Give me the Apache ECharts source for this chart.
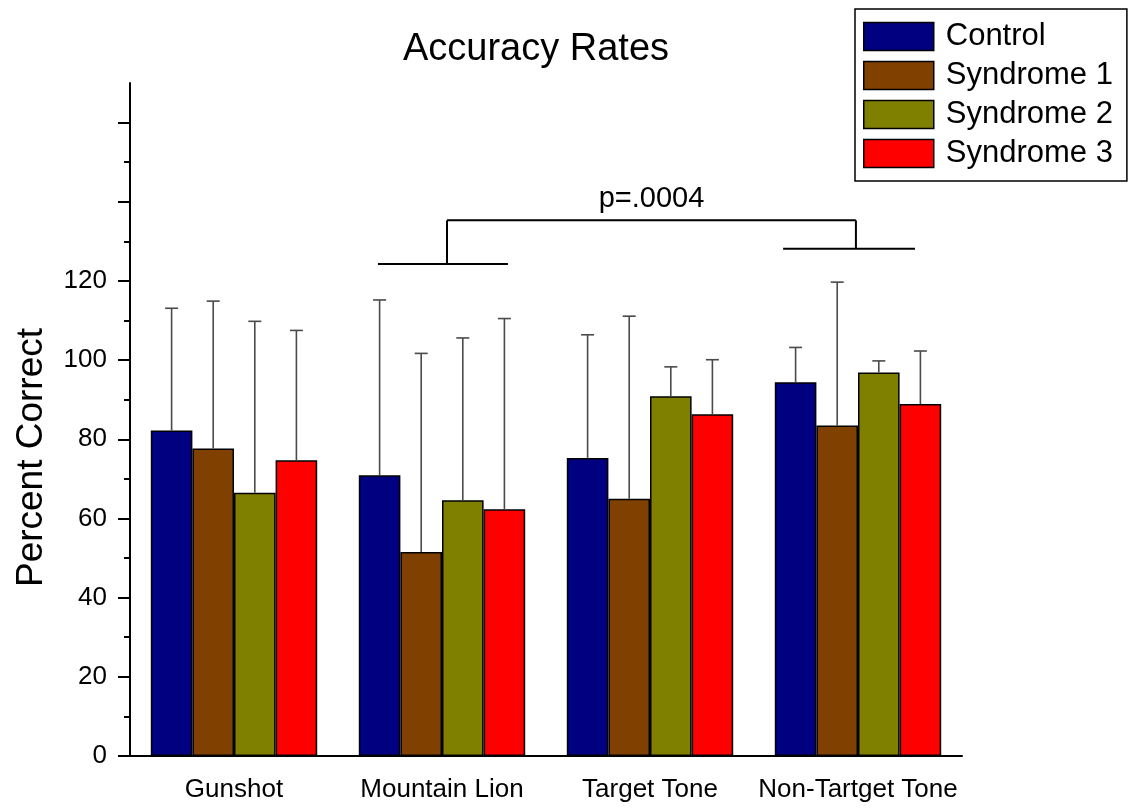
<!DOCTYPE html>
<html>
<head>
<meta charset="utf-8">
<script src="https://cdn.jsdelivr.net/npm/echarts@6/dist/echarts.min.js"></script>
<style>html,body{margin:0;padding:0;background:#fff}#c{width:1128px;height:808px}</style>
</head>
<body>
<div id="c"></div>
<script>
const categories = ['Gunshot', 'Mountain Lion', 'Target Tone', 'Non-Tartget Tone'];
const seriesNames = ['Control', 'Syndrome 1', 'Syndrome 2', 'Syndrome 3'];
const control = [82.2, 70.9, 75.3, 94.4];
const syndrome1 = [77.7, 51.5, 65.0, 83.5];
const syndrome2 = [66.5, 64.6, 90.9, 96.9];
const syndrome3 = [74.7, 62.3, 86.3, 88.9];
const controlErr = [30.9, 44.3, 31.1, 8.8];
const syndrome1Err = [37.2, 50.2, 46.1, 36.2];
const syndrome2Err = [43.3, 41.0, 7.4, 2.9];
const syndrome3Err = [32.8, 48.2, 13.8, 13.4];
const majorTicks = [0, 20, 40, 60, 80, 100, 120, 140, 160];
const minorTicks = [10, 30, 50, 70, 90, 110, 130, 150];
const tickLabels = [0, 20, 40, 60, 80, 100, 120];
const bracketCats = ['Mountain Lion', 'Non-Tartget Tone'];
const bracketLevels = [124.3, 135.3, 128.1]; // left foot, top bar, right foot
const bracketLabel = 'p=.0004';
const bracketLabelLevel = 140.6;

const values = [control, syndrome1, syndrome2, syndrome3];
const errors = [controlErr, syndrome1Err, syndrome2Err, syndrome3Err];
const colors = ['#000080', '#804000', '#808000', '#FF0000'];
const FONT = 'Liberation Sans, Arial, sans-serif';

const chart = echarts.init(document.getElementById('c'));

const barSeries = seriesNames.map((n, j) => ({
  name: n, type: 'bar', data: values[j], xAxisIndex: 0, yAxisIndex: 0,
  barGap: '0%', barCategoryGap: '20%',
  itemStyle: { color: colors[j], borderColor: '#000', borderWidth: 1.5 },
  z: 2
}));

const errSeries = seriesNames.map((n, j) => ({
  name: n + ' err', type: 'custom', xAxisIndex: 0, yAxisIndex: 0,
  data: categories.map((c, i) => [i, values[j][i], values[j][i] + errors[j][i]]),
  encode: { x: 0, y: [1, 2] },
  z: 3,
  renderItem: function (params, api) {
    const catW = api.size([1, 0])[0];
    const bw = catW * 0.8 / 4;
    const cx = api.coord([api.value(0), 0])[0] + (j - 1.5) * bw;
    const yb = api.coord([api.value(0), api.value(1)])[1];
    const yt = api.coord([api.value(0), api.value(2)])[1];
    const st = { stroke: '#4a4a4a', lineWidth: 1.6 };
    return { type: 'group', children: [
      { type: 'line', shape: { x1: cx, y1: yb, x2: cx, y2: yt }, style: st },
      { type: 'line', shape: { x1: cx - 6.5, y1: yt, x2: cx + 6.5, y2: yt }, style: st }
    ]};
  }
}));

const bracketSeries = {
  name: 'bracket', type: 'custom', xAxisIndex: 0, yAxisIndex: 0,
  data: [[categories.indexOf(bracketCats[0]), categories.indexOf(bracketCats[1])]],
  encode: { x: [0, 1] },
  z: 4,
  renderItem: function (params, api) {
    const catW = api.size([1, 0])[0];
    const i0 = api.value(0), i1 = api.value(1);
    const cL = api.coord([i0, bracketLevels[0]]);
    const cT = api.coord([i0, bracketLevels[1]]);
    const cR = api.coord([i1, bracketLevels[2]]);
    const vL = cL[0] + 0.024 * catW;
    const vR = cR[0] - 0.01 * catW;
    const yl = api.coord([i0, bracketLabelLevel])[1];
    const st = { stroke: '#000', lineWidth: 2 };
    return { type: 'group', children: [
      { type: 'line', shape: { x1: cL[0] - 0.308 * catW, y1: cL[1], x2: cL[0] + 0.317 * catW, y2: cL[1] }, style: st },
      { type: 'line', shape: { x1: vL, y1: cL[1], x2: vL, y2: cT[1] }, style: st },
      { type: 'line', shape: { x1: vL, y1: cT[1], x2: vR, y2: cT[1] }, style: st },
      { type: 'line', shape: { x1: vR, y1: cT[1], x2: vR, y2: cR[1] }, style: st },
      { type: 'line', shape: { x1: cR[0] - 0.36 * catW, y1: cR[1], x2: cR[0] + 0.274 * catW, y2: cR[1] }, style: st },
      { type: 'text', style: { x: (vL + vR) / 2, y: yl, text: bracketLabel, align: 'center', verticalAlign: 'middle',
        fill: '#000', font: '29px ' + FONT } }
    ]};
  }
};

chart.setOption({
  backgroundColor: '#fff',
  animation: false,
  title: {
    text: 'Accuracy Rates', left: 531, top: 26, textAlign: 'center',
    textStyle: { fontFamily: FONT, fontSize: 38, fontWeight: 'normal', color: '#000' }
  },
  legend: {
    data: seriesNames, orient: 'vertical', left: 855, top: 9, align: 'left',
    itemWidth: 70, itemHeight: 28, itemGap: 8,
    padding: [12, 14, 12, 8],
    borderColor: '#000', borderWidth: 1.5,
    icon: 'rect',
    itemStyle: { borderColor: '#000', borderWidth: 1.5 },
    textStyle: { fontFamily: FONT, fontSize: 31, color: '#000', lineHeight: 28, padding: [0, 0, 0, 7] }
  },
  grid: { left: 130, right: 166, top: 83, bottom: 52 },
  xAxis: [
    {
      type: 'category', data: categories, position: 'bottom',
      axisLine: { lineStyle: { color: '#000', width: 2 } },
      axisTick: { alignWithLabel: true, length: 12, lineStyle: { color: '#000', width: 2 } },
      axisLabel: { fontFamily: FONT, fontSize: 26, color: '#000', margin: 21, interval: 0 }
    },
    {
      type: 'category', data: categories, position: 'bottom',
      axisLine: { show: false },
      axisTick: { length: 6, lineStyle: { color: '#000', width: 2 } },
      axisLabel: { show: false }
    }
  ],
  yAxis: [
    {
      type: 'value', min: 0, max: 170, interval: 10, position: 'left',
      splitLine: { show: false },
      axisLine: { show: true, lineStyle: { color: '#000', width: 2 } },
      axisTick: { show: true, length: 12, customValues: majorTicks, lineStyle: { color: '#000', width: 2 } },
      axisLabel: { customValues: tickLabels, fontFamily: FONT, fontSize: 26, color: '#000', margin: 23 },
      name: 'Percent Correct', nameLocation: 'middle', nameRotate: 90, nameGap: 80,
      nameTextStyle: { fontFamily: FONT, fontSize: 37, color: '#000', padding: [0, 76, 0, 0] }
    },
    {
      type: 'value', min: 0, max: 170, interval: 10, position: 'left',
      splitLine: { show: false },
      axisLine: { show: false },
      axisTick: { show: true, length: 6, customValues: minorTicks, lineStyle: { color: '#000', width: 2 } },
      axisLabel: { show: false }
    }
  ],
  series: [...barSeries, ...errSeries, bracketSeries]
});
</script>
</body>
</html>
